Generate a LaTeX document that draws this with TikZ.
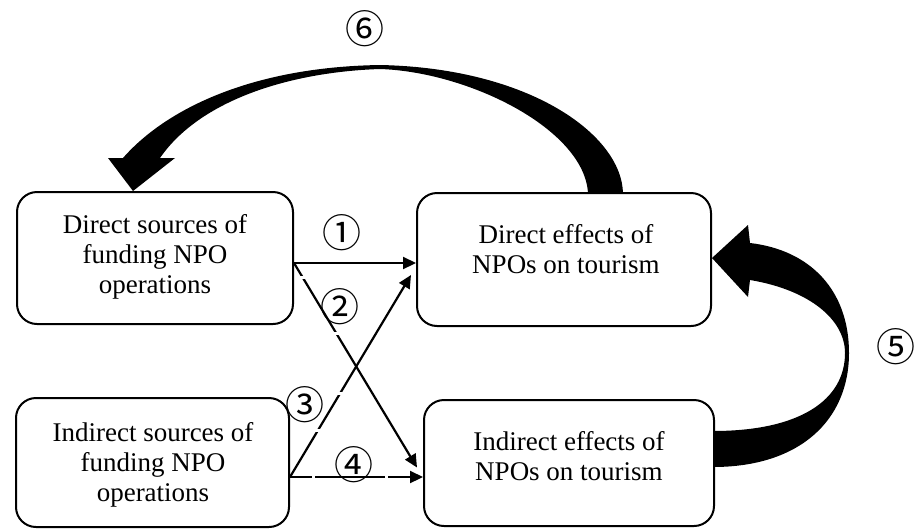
\documentclass[tikz,border=0pt]{standalone}
\usepackage{fontspec}
\setmainfont{Liberation Serif}
\newfontfamily\circfont{Noto Sans CJK SC}
\usetikzlibrary{arrows.meta}
\begin{document}
\begin{tikzpicture}[x=1pt,y=-1pt,
  boxnode/.style={draw=black,line width=2pt,rounded corners=20pt,inner sep=0pt,fill=none},
  boxtext/.style={anchor=north,inner sep=0pt,align=center,font=\fontsize{27}{30}\selectfont},
  numlabel/.style={inner sep=0pt,font=\circfont\fontsize{39}{39}\selectfont},
  thinarrow/.style={line width=2.2pt,-{Triangle[length=13pt,width=12pt]}},
  gapline/.style={draw=white,line width=3pt},
  bigarrow/.style={fill=black,draw=none}]
\useasboundingbox (0,0) rectangle (918,528);
% boxes
\node[boxnode,minimum width=276pt,minimum height=132pt] (b1) at (155,258) {};
\node[boxnode,minimum width=294pt,minimum height=133pt] (b2) at (564,259.5) {};
\node[boxnode,minimum width=273pt,minimum height=129pt] (b3) at (152.5,462.5) {};
\node[boxnode,minimum width=290pt,minimum height=126pt] (b4) at (569,463) {};
% texts
\node[boxtext] (t1) at (155,214.6) {Direct sources of\\funding NPO\\operations};
\node[boxtext] (t2) at (566,224.6) {Direct effects of\\NPOs on tourism};
\node[boxtext] (t3) at (153,422.6) {Indirect sources of\\funding NPO\\operations};
\node[boxtext] (t4) at (569,431.6) {Indirect effects of\\NPOs on tourism};
% thin arrows
\draw[thinarrow] ([yshift=-5pt]b1.east) -- ([yshift=-5pt]b1.east -| b2.west);
\draw[thinarrow] ([yshift=-5pt]b1.east) -- ([xshift=-6pt,yshift=-4.5pt]b4.west);
\draw[thinarrow] ([yshift=-14.5pt]b3.east) -- ([xshift=-5pt,yshift=-15.5pt]b2.west);
\draw[thinarrow] ([yshift=-14.5pt]b3.east) -- ([yshift=-14.5pt]b3.east -| b4.west);
% small white gaps in the arrows
\draw[gapline] (297,277) -- (306,277);
\draw[gapline] (331,333) -- (340,333);
\draw[gapline] (335,393) -- (344,393);
\draw[gapline] (313,430) -- (322,430);
\draw[gapline] (313,474) -- (313,481);
\draw[gapline] (386,474) -- (386,481);
% labels
\node[numlabel] (n1) at (342,233) {①};
\node[numlabel] (n2) at (340,307) {②};
\node[numlabel] (n3) at (305,405) {③};
\node[numlabel] (n4) at (354,465) {④};
\node[numlabel] (n5) at (896,347) {⑤};
\node[numlabel] (n6) at (365,29) {⑥};
% big curved arrow 6 (from b2 top to b1 top)
\fill[bigarrow] (623,193.5) .. controls (622,135) and (530,68) .. (380,65)
  .. controls (250,67) and (165,110) .. (123,158)
  -- (108,158) -- (133,191) -- (175,158) -- (160,158)
  .. controls (200,100) and (290,72) .. (380,69)
  .. controls (470,72) and (585,130) .. (588,193.5) -- cycle;
% big curved arrow 5 (from b4 right to b2 right)
\fill[bigarrow] (713,467) .. controls (800,467) and (849,420) .. (849,353)
  .. controls (849,290) and (810,250) .. (750,243)
  -- (748,225) -- (712,258) -- (748,297) -- (750,280)
  .. controls (810,290) and (845,320) .. (845,353)
  .. controls (845,400) and (800,431) .. (713,431) -- cycle;
\end{tikzpicture}
\end{document}
